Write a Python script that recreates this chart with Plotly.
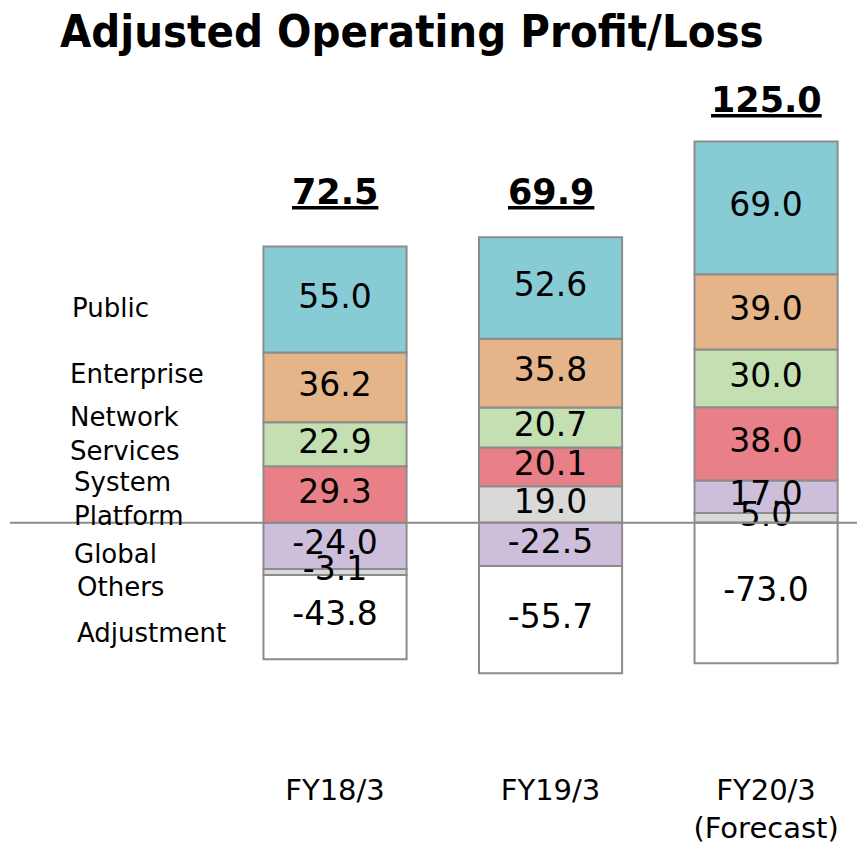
import plotly.graph_objects as go

years = ["FY18/3", "FY19/3", "FY20/3<br>(Forecast)"]
public = [55.0, 52.6, 69.0]
enterprise = [36.2, 35.8, 39.0]
network = [22.9, 20.7, 30.0]
system_platform = [29.3, 20.1, 38.0]
global_ = [-24.0, -22.5, 17.0]
others = [-3.1, 19.0, 5.0]
adjustment = [-43.8, -55.7, -73.0]
totals = [72.5, 69.9, 125.0]

segment_names = ["Public", "Enterprise", "Network<br>Services", "System<br>Platform",
                 "Global", "Others", "Adjustment"]
label_y = [111.5, 77.5, 46.3, 12.3, -16.3, -33.5, -57.2]
label_px = [70, 68, 68, 72, 72, 75, 75]

colors = {
    "Public": "#87CBD5",
    "Enterprise": "#E5B589",
    "Network": "#C4E0B2",
    "System": "#E98088",
    "Global": "#CDBFDB",
    "Others": "#D9D9D9",
    "Adjustment": "#FFFFFF",
}

FONT = "DejaVu Sans"
BW = 0.664
OFF = 8  # page body margin
W, H = 865 - OFF, 845 - OFF


def pos(vals):
    return [v if v > 0 else None for v in vals]


def neg(vals):
    return [v if v < 0 else None for v in vals]


# relative stacking: positives stack from 0 upward in trace order,
# negatives stack from 0 downward in trace order
series = [
    ("Others", pos(others)),
    ("Global", global_),
    ("System", system_platform),
    ("Network", network),
    ("Enterprise", enterprise),
    ("Public", public),
    ("Others", neg(others)),
    ("Adjustment", adjustment),
]

fig = go.Figure()
pos_acc = [0.0] * len(years)
neg_acc = [0.0] * len(years)
tx, ty, tt = [], [], []
for name, vals in series:
    fig.add_trace(go.Bar(
        x=years, y=vals, name=name, width=BW,
        marker=dict(color=colors[name], line=dict(color="#8C8C8C", width=2)),
        hoverinfo="skip", showlegend=False,
    ))
    for i, v in enumerate(vals):
        if v is None:
            continue
        if v > 0:
            mid = pos_acc[i] + v / 2
            pos_acc[i] += v
        else:
            mid = neg_acc[i] + v / 2
            neg_acc[i] += v
        tx.append(years[i])
        ty.append(mid)
        tt.append("%.1f" % v)

fig.add_trace(go.Scatter(
    x=tx, y=ty, text=tt, mode="text", textposition="middle center",
    textfont=dict(family=FONT, size=33, color="black"),
    hoverinfo="skip", showlegend=False, cliponaxis=False,
))

shifts = [33, 23, 19]
for x, top, t, sh in zip(years, pos_acc, totals, shifts):
    fig.add_annotation(x=x, y=top, text="<b>%.1f</b>" % t, showarrow=False,
                       yanchor="bottom", yshift=sh,
                       font=dict(family=FONT, size=35, color="black", lineposition="under"))

for name, ly, lx in zip(segment_names, label_y, label_px):
    fig.add_annotation(xref="paper", x=(lx - 10) / 855, y=ly, text=name, showarrow=False,
                       xanchor="left", yanchor="middle", align="left",
                       font=dict(family=FONT, size=26, color="black"))

fig.add_shape(type="line", xref="paper", x0=0, x1=1, y0=0, y1=0,
              line=dict(color="#8C8C8C", width=2), layer="above")

fig.update_layout(
    width=W, height=H,
    margin=dict(l=10 - OFF, r=0, t=60 - OFF, b=70),
    barmode="relative",
    plot_bgcolor="white", paper_bgcolor="white",
    title=dict(text="<b>Adjusted Operating Profit/Loss</b>", xref="container", yref="container",
               x=(60 - OFF) / W, xanchor="left", y=1 - (31 - OFF) / H, yanchor="middle",
               font=dict(family="DejaVu Sans Condensed, DejaVu Sans", size=45, color="black")),
    xaxis=dict(range=[-1.508, 2.459], showgrid=False, showline=False, zeroline=False,
               ticks="", tickfont=dict(family=FONT, size=29, color="black")),
    yaxis=dict(range=[-128.4, 240.3], visible=False, showgrid=False, zeroline=False),
)

fig.write_html("out.html")
